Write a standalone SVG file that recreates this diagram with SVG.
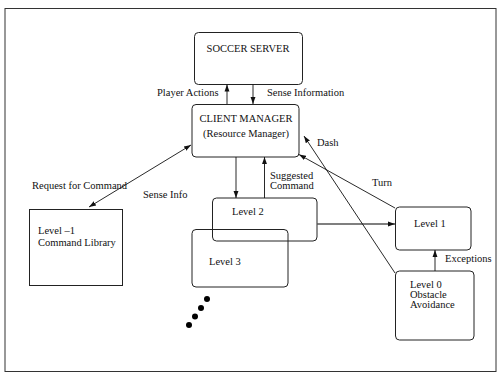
<svg xmlns="http://www.w3.org/2000/svg" width="497" height="373" viewBox="0 0 497 373">
<style>
text{font-family:"Liberation Serif","Times New Roman",serif;font-size:10.5px;fill:#111}
.n{fill:none;stroke:#222;stroke-width:1}
.c{fill:none;stroke:#111;stroke-width:0.9}
</style>
<defs>
<marker id="a" viewBox="0 0 10 10" refX="10" refY="5" markerWidth="7" markerHeight="7" orient="auto-start-reverse" markerUnits="userSpaceOnUse">
<path d="M0,1.5 L10,5 L0,8.5 Z" fill="#111"/>
</marker>
</defs>
<rect x="5" y="8.5" width="491" height="363" fill="#fff" stroke="#333" stroke-width="1"/>
<g id="soccer-server">
<rect class="n" x="194.5" y="32.5" width="108" height="52" rx="4"/>
<text x="248" y="52" text-anchor="middle">SOCCER SERVER</text>
</g>
<g id="client-manager">
<rect class="n" x="192" y="104.5" width="107" height="52.5" rx="4" stroke-width="1.6"/>
<text x="246" y="122" text-anchor="middle">CLIENT MANAGER</text>
<text x="246" y="137" text-anchor="middle">(Resource Manager)</text>
</g>
<g id="level-minus1">
<rect class="n" x="29.5" y="209.5" width="93" height="76"/>
<text x="38" y="234">Level –1</text>
<text x="38" y="245.5">Command Library</text>
</g>
<g id="level2">
<rect class="n" x="212.5" y="198" width="104.5" height="43" rx="4"/>
<text x="232" y="215">Level 2</text>
</g>
<g id="level3">
<rect class="n" x="192" y="229.5" width="96" height="57.5" rx="4"/>
<text x="209" y="265">Level 3</text>
</g>
<g id="level1">
<rect class="n" x="395.5" y="207" width="75.5" height="43" rx="4"/>
<text x="414" y="227">Level 1</text>
</g>
<g id="level0">
<rect class="n" x="395.5" y="271" width="78.5" height="69" rx="4"/>
<text x="410" y="288">Level 0</text>
<text x="410" y="298">Obstacle</text>
<text x="410" y="308">Avoidance</text>
</g>
<g id="dots" fill="#000">
<circle cx="207" cy="299" r="3"/>
<circle cx="201" cy="308" r="3"/>
<circle cx="195" cy="316.5" r="3"/>
<circle cx="189" cy="325" r="3"/>
</g>
<g id="connectors">
<line class="c" x1="227" y1="104" x2="227" y2="84.5" marker-end="url(#a)"/>
<line class="c" x1="253" y1="84.5" x2="253" y2="104" marker-end="url(#a)"/>
<line class="c" x1="191" y1="145" x2="89" y2="207" marker-start="url(#a)" marker-end="url(#a)"/>
<line class="c" x1="236" y1="157" x2="236" y2="198" marker-end="url(#a)"/>
<line class="c" x1="264.5" y1="198" x2="264.5" y2="157" marker-end="url(#a)"/>
<line x1="317" y1="224" x2="395" y2="224" stroke="#555" stroke-width="1.4" marker-end="url(#a)"/>
<line class="c" x1="435" y1="271" x2="435" y2="250" marker-end="url(#a)"/>
<line class="c" x1="395" y1="208" x2="299" y2="154.5" marker-end="url(#a)"/>
<line class="c" x1="395" y1="273" x2="304" y2="136" marker-end="url(#a)"/>
<text x="157" y="96">Player Actions</text>
<text x="267" y="96">Sense Information</text>
<text x="32" y="189">Request  for Command</text>
<text x="143" y="198">Sense Info</text>
<text x="270" y="179">Suggested</text>
<text x="270" y="189">Command</text>
<text x="317" y="146">Dash</text>
<text x="372" y="186">Turn</text>
<text x="445" y="262">Exceptions</text>
</g>
</svg>
